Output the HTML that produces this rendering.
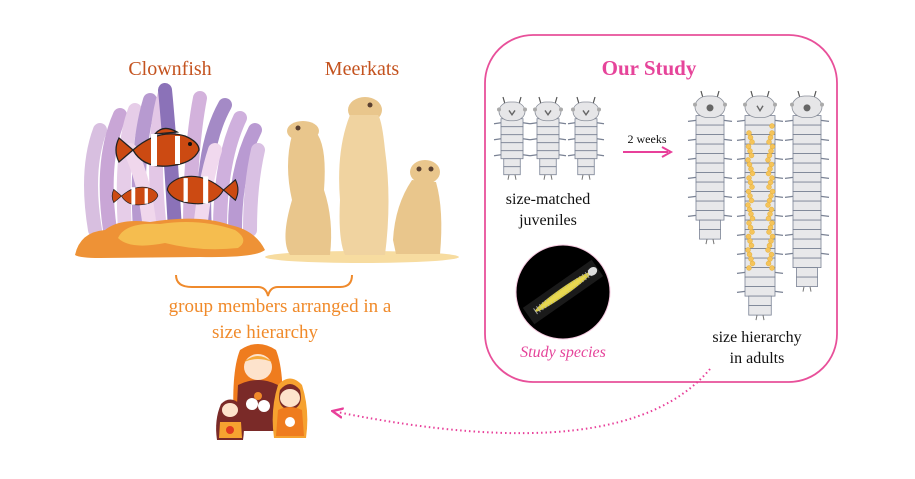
<!DOCTYPE html>
<html><head><meta charset="utf-8">
<style>
html,body{margin:0;padding:0;background:#fff;}
svg{display:block;}
text{font-family:"Liberation Serif",serif;}
</style></head>
<body>
<svg id="s" width="915" height="479" viewBox="0 0 915 479" xmlns="http://www.w3.org/2000/svg">
<defs>
<marker id="ah" viewBox="0 0 10 10" refX="5" refY="5" markerWidth="6" markerHeight="6" orient="auto-start-reverse">
<path d="M0,1 L9,5 L0,9" fill="none" stroke="#e8409a" stroke-width="2"/>
</marker>
</defs>

<text x="170" y="75" font-size="20" fill="#c4531f" text-anchor="middle">Clownfish</text>
<text x="362" y="75" font-size="20" fill="#c4531f" text-anchor="middle">Meerkats</text>

<g stroke-linecap="round" fill="none" stroke-width="14">
<path d="M95,230 Q85,170 100,130" stroke="#d8bfe0"/>
<path d="M110,230 Q100,160 120,115" stroke="#c9a6d6"/>
<path d="M125,230 Q120,150 135,110" stroke="#e6cde8"/>
<path d="M140,230 Q135,150 150,100" stroke="#b79ad0"/>
<path d="M160,230 Q150,140 165,93" stroke="#e3c7e6"/>
<path d="M175,230 Q170,140 165,90" stroke="#8b72b8"/>
<path d="M190,230 Q190,150 200,98" stroke="#d3b2dc"/>
<path d="M205,230 Q200,150 225,105" stroke="#a48ac6"/>
<path d="M220,230 Q220,160 240,118" stroke="#cfb0dd"/>
<path d="M235,230 Q235,170 255,130" stroke="#b99ad2"/>
<path d="M250,230 Q250,185 258,150" stroke="#d9c0e3"/>
<path d="M150,230 Q145,180 130,150" stroke="#f0d7ec"/>
<path d="M200,230 Q205,180 215,150" stroke="#f1d9ee"/>
</g>
<path d="M75,255 Q80,232 105,230 Q120,218 150,222 Q200,214 230,225 Q255,230 265,250 Q255,258 200,257 L100,258 Q80,258 75,255 Z" fill="#ee9236"/>
<path d="M118,238 Q125,222 160,224 Q200,218 235,230 Q250,240 238,248 Q200,252 165,243 Q130,250 118,238 Z" fill="#f5bd4f"/>

<g stroke="#222" stroke-width="1.3">
<g transform="translate(163,150)">
<path d="M-30,0 Q-5,-22 22,-14 Q36,-8 36,0 Q30,14 5,16 Q-20,18 -30,0 Z" fill="#cc4a12"/>
<path d="M-30,0 L-44,-12 Q-50,0 -44,12 Z" fill="#cc4a12"/>
<path d="M-8,-16 Q0,-26 14,-18 Z" fill="#cc4a12"/>
<rect x="-12" y="-16" width="6" height="32" fill="#fff" stroke="none"/>
<rect x="12" y="-14" width="5" height="28" fill="#fff" stroke="none"/>
<circle cx="27" cy="-6" r="2" fill="#111" stroke="none"/>
</g>
<g transform="translate(138,196) scale(0.55)">
<path d="M-30,0 Q-5,-22 22,-14 Q36,-8 36,0 Q30,14 5,16 Q-20,18 -30,0 Z" fill="#cc4a12"/>
<path d="M-30,0 L-44,-12 Q-50,0 -44,12 Z" fill="#cc4a12"/>
<rect x="-12" y="-16" width="7" height="32" fill="#fff" stroke="none"/>
<rect x="12" y="-14" width="6" height="28" fill="#fff" stroke="none"/>
</g>
<g transform="translate(198,190) scale(-0.85,0.85)">
<path d="M-30,0 Q-5,-22 22,-14 Q36,-8 36,0 Q30,14 5,16 Q-20,18 -30,0 Z" fill="#cc4a12"/>
<path d="M-30,0 L-44,-12 Q-50,0 -44,12 Z" fill="#cc4a12"/>
<rect x="-12" y="-16" width="6" height="32" fill="#fff" stroke="none"/>
<rect x="12" y="-14" width="5" height="28" fill="#fff" stroke="none"/>
</g>
</g>

<ellipse cx="362" cy="257" rx="97" ry="6" fill="#f7dca0"/>
<g fill="#e9c68c">
<ellipse cx="303" cy="131" rx="16" ry="10"/>
<path d="M292,135 Q284,165 292,200 Q280,240 290,255 L330,255 Q334,220 324,190 Q327,150 318,135 Z"/>
<ellipse cx="365" cy="110" rx="17" ry="13"/>
<path d="M350,115 Q336,150 340,200 Q338,240 345,255 L385,255 Q392,200 385,150 Q382,120 378,115 Z" fill="#f0d3a0"/>
<ellipse cx="425" cy="172" rx="15" ry="12"/>
<path d="M412,180 Q395,205 393,240 L396,254 L440,254 Q444,210 436,182 Z"/>
</g>
<g fill="#5a4030"><circle cx="298" cy="128" r="2.5"/><circle cx="370" cy="105" r="2.5"/><circle cx="419" cy="169" r="2.5"/><circle cx="431" cy="169" r="2.5"/></g>

<path d="M176,275 Q176,287 192,287 L258,287 Q266,287 268,296 Q270,287 278,287 L340,287 Q352,287 352,275" fill="none" stroke="#ef8a2c" stroke-width="2"/>
<text x="280" y="312" font-size="19" fill="#f08a2a" text-anchor="middle">group members arranged in a</text>
<text x="265" y="338" font-size="19" fill="#f08a2a" text-anchor="middle">size hierarchy</text>

<g>
<path d="M240,350 Q258,338 276,350 Q285,372 282,425 L234,425 Q231,372 240,350 Z" fill="#ef7c1e"/>
<path d="M238,385 Q258,375 278,385 L280,425 L236,425 Z" fill="#7a2a28"/>
<ellipse cx="258" cy="367" rx="14" ry="13" fill="#fde3cc"/>
<path d="M244,362 Q258,350 272,362 Q258,356 244,362Z" fill="#f6a93a"/>
<circle cx="252" cy="404" r="6" fill="#fff"/><circle cx="264" cy="406" r="6" fill="#fff"/><circle cx="258" cy="396" r="4" fill="#f08a2a"/>
<rect x="236" y="425" width="46" height="6" fill="#7a2a28"/>
<path d="M221,404 Q230,395 240,404 Q246,420 243,440 L217,440 Q214,420 221,404 Z" fill="#7a2a28"/>
<ellipse cx="230" cy="410" rx="8" ry="7" fill="#fde3cc"/>
<path d="M220,422 L241,422 L242,438 L219,438 Z" fill="#f6a230"/>
<circle cx="230" cy="430" r="4" fill="#e03a20"/>
<path d="M278,385 Q290,372 302,385 Q310,410 306,438 L274,438 Q270,410 278,385 Z" fill="#f6a230"/>
<path d="M280,390 Q290,378 300,390 Q304,408 290,410 Q276,408 280,390Z" fill="#7a2a28"/>
<ellipse cx="290" cy="398" rx="10" ry="9" fill="#fde3cc"/>
<path d="M278,410 Q290,404 302,410 L304,436 L276,436 Z" fill="#ef7c1e"/>
<circle cx="290" cy="422" r="5" fill="#fff"/>
</g>

<rect x="485" y="35" width="352" height="347" rx="48" ry="48" fill="none" stroke="#e8509a" stroke-width="1.8"/>
<text x="649" y="75" font-size="21" font-weight="bold" fill="#e6449a" text-anchor="middle">Our Study</text>

<text x="548" y="204" font-size="16" fill="#111" text-anchor="middle">size-matched</text>
<text x="548" y="225" font-size="16" fill="#111" text-anchor="middle">juveniles</text>
<text x="647" y="143" font-size="12" fill="#111" text-anchor="middle">2 weeks</text>
<line x1="623" y1="152" x2="668" y2="152" stroke="#e8409a" stroke-width="2"/>
<path d="M662,147 L671,152 L662,157" fill="none" stroke="#e8409a" stroke-width="2"/>

<circle cx="563" cy="292" r="47" fill="#000" stroke="#f6c8df" stroke-width="1"/>
<g transform="translate(563,292) rotate(-35)">
<rect x="-42" y="-10" width="84" height="20" fill="#1a1a1a"/>
<ellipse cx="0" cy="0" rx="34" ry="4" fill="#d9cc40"/>
<line x1="-34" y1="0" x2="34" y2="0" stroke="#bbb" stroke-width="7" stroke-dasharray="1 2.5" opacity="0.8"/>
<ellipse cx="0" cy="0" rx="28" ry="2.5" fill="#e8d850"/>
<ellipse cx="36" cy="0" rx="5" ry="4" fill="#ddd"/>
</g>
<text x="563" y="357" font-size="16" font-style="italic" fill="#e5449a" text-anchor="middle">Study species</text>

<text x="757" y="342" font-size="16" fill="#111" text-anchor="middle">size hierarchy</text>
<text x="757" y="363" font-size="16" fill="#111" text-anchor="middle">in adults</text>

<g id="worms"></g>

<path d="M710,369 Q625,470 337,412" fill="none" stroke="#e8409a" stroke-width="2" stroke-dasharray="1.5 3" marker-end="url(#ah)"/>
</svg>
<script>
(function(){
var g=document.getElementById('worms'),h='';
function worm(cx,top,bot,w,hw,eggs,mouth,seg,spk){
 var hh=hw*0.72;
 h+='<line x1="'+(cx-7)+'" y1="'+(top+2)+'" x2="'+(cx-9)+'" y2="'+(top-5)+'" stroke="#555" stroke-width="1.2"/>';
 h+='<line x1="'+(cx+7)+'" y1="'+(top+2)+'" x2="'+(cx+9)+'" y2="'+(top-5)+'" stroke="#555" stroke-width="1.2"/>';
 var y0=top+hh-2, n=Math.floor((bot-y0-6)/seg);
 for(var i=0;i<n;i++){
  var y=y0+i*seg, ww=w*(i>n-3?0.75:1);
  h+='<rect x="'+(cx-ww/2)+'" y="'+y+'" width="'+ww+'" height="'+seg+'" fill="#e8e8ea" stroke="#7a8294" stroke-width="0.8"/>';
  if(i<n-2 && i%2==0){
   h+='<line x1="'+(cx-ww/2)+'" y1="'+(y+seg/2)+'" x2="'+(cx-ww/2-spk)+'" y2="'+(y+seg/2+1)+'" stroke="#7a8294" stroke-width="1.3"/>';
   h+='<line x1="'+(cx+ww/2)+'" y1="'+(y+seg/2)+'" x2="'+(cx+ww/2+spk)+'" y2="'+(y+seg/2+1)+'" stroke="#7a8294" stroke-width="1.3"/>';
  }
 }
 h+='<rect x="'+(cx-hw/2)+'" y="'+top+'" width="'+hw+'" height="'+hh+'" rx="'+(hw*0.42)+'" fill="#e6e6e8" stroke="#8a8f9a" stroke-width="0.8"/>';
 h+='<circle cx="'+(cx-hw/2)+'" cy="'+(top+hh*0.4)+'" r="2" fill="#aaa"/><circle cx="'+(cx+hw/2)+'" cy="'+(top+hh*0.4)+'" r="2" fill="#aaa"/>';
 if(mouth==1)h+='<circle cx="'+cx+'" cy="'+(top+hh*0.55)+'" r="3.5" fill="#666"/>';
 else h+='<path d="M'+(cx-3)+','+(top+hh*0.45)+' L'+cx+','+(top+hh*0.68)+' L'+(cx+3)+','+(top+hh*0.45)+'" fill="none" stroke="#666" stroke-width="1.4"/>';
 if(eggs){
  var ys=[[cx+12,126]];
  for(var yy=133;yy<270;yy+=4.5){
   ys.push([cx-10+((yy*7)%5)-2,yy]);ys.push([cx+10+((yy*3)%5)-2,yy]);
  }
  for(var j=0;j<ys.length;j++)h+='<circle cx="'+ys[j][0]+'" cy="'+ys[j][1]+'" r="2.5" fill="#f5c45a" stroke="#e0a830" stroke-width="0.4"/>';
 }
 var yb=y0+n*seg;
 h+='<line x1="'+(cx-3)+'" y1="'+yb+'" x2="'+(cx-4)+'" y2="'+(yb+5)+'" stroke="#777"/><line x1="'+(cx+3)+'" y1="'+yb+'" x2="'+(cx+4)+'" y2="'+(yb+5)+'" stroke="#777"/>';
}
worm(512,102,186,22,26,false,0,8,7);
worm(548,102,186,22,26,false,0,8,7);
worm(586,102,186,22,26,false,0,8,7);
worm(710,96,254,28,30,false,1,9.5,8);
worm(760,96,324,30,30,true,0,9.5,8);
worm(807,96,294,28,30,false,1,9.5,8);
g.innerHTML=h;
})();
</script>
</body></html>
